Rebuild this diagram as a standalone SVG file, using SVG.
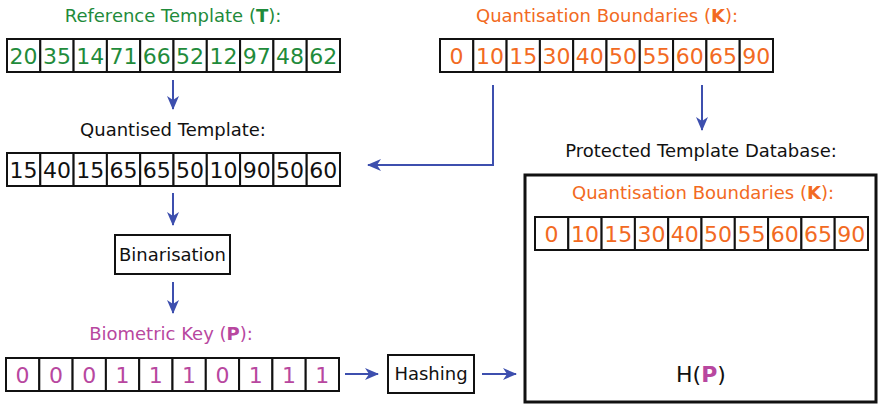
<svg xmlns="http://www.w3.org/2000/svg" width="880" height="406" viewBox="0 0 880 406">
  <style>
    text { font-family: "DejaVu Sans", "Liberation Sans", sans-serif; }
    .title { font-size: 18px; text-anchor: middle; }
    .num { font-size: 22px; text-anchor: middle; }
    .green { fill: #1f8b3b; }
    .orange { fill: #f26a22; }
    .purple { fill: #b8479f; }
    .black { fill: #111; }
    .cell { fill: #fff; stroke: #111; stroke-width: 2; }
    .box { fill: #fff; stroke: #111; stroke-width: 2; }
    .conn { fill: none; stroke: #3d4fae; stroke-width: 2; }
  </style>
  <defs>
    <marker id="arrow" markerUnits="userSpaceOnUse" markerWidth="14" markerHeight="12" viewBox="0 0 14 12" refX="13" refY="6" orient="auto">
      <path d="M0,0 L14,6 L0,12 L4,6 z" fill="#3d4fae"/>
    </marker>
    <g id="cells">
      <rect class="cell" x="0" y="0" width="33.3" height="33"/>
      <rect class="cell" x="33.3" y="0" width="33.3" height="33"/>
      <rect class="cell" x="66.6" y="0" width="33.3" height="33"/>
      <rect class="cell" x="99.9" y="0" width="33.3" height="33"/>
      <rect class="cell" x="133.2" y="0" width="33.3" height="33"/>
      <rect class="cell" x="166.5" y="0" width="33.3" height="33"/>
      <rect class="cell" x="199.8" y="0" width="33.3" height="33"/>
      <rect class="cell" x="233.1" y="0" width="33.3" height="33"/>
      <rect class="cell" x="266.4" y="0" width="33.3" height="33"/>
      <rect class="cell" x="299.7" y="0" width="33.3" height="33"/>
    </g>
  </defs>

  <!-- Reference template T -->
  <g id="reference-template">
    <text class="title green" x="173" y="22">Reference Template (<tspan font-weight="bold">T</tspan>):</text>
    <use href="#cells" x="7" y="39"/>
    <g class="num green">
      <text x="23.6" y="64">20</text><text x="56.9" y="64">35</text><text x="90.2" y="64">14</text>
      <text x="123.5" y="64">71</text><text x="156.8" y="64">66</text><text x="190.1" y="64">52</text>
      <text x="223.4" y="64">12</text><text x="256.7" y="64">97</text><text x="290" y="64">48</text>
      <text x="323.3" y="64">62</text>
    </g>
  </g>

  <!-- Quantisation boundaries K -->
  <g id="quantisation-boundaries">
    <text class="title orange" x="607" y="22">Quantisation Boundaries (<tspan font-weight="bold">K</tspan>):</text>
    <use href="#cells" x="440" y="39"/>
    <g class="num orange">
      <text x="456.6" y="64">0</text><text x="489.9" y="64">10</text><text x="523.2" y="64">15</text>
      <text x="556.5" y="64">30</text><text x="589.8" y="64">40</text><text x="623.1" y="64">50</text>
      <text x="656.4" y="64">55</text><text x="689.7" y="64">60</text><text x="723" y="64">65</text>
      <text x="756.3" y="64">90</text>
    </g>
  </g>

  <!-- Quantised template -->
  <g id="quantised-template">
    <text class="title black" x="173" y="136">Quantised Template:</text>
    <use href="#cells" x="7" y="153"/>
    <g class="num black">
      <text x="23.6" y="178">15</text><text x="56.9" y="178">40</text><text x="90.2" y="178">15</text>
      <text x="123.5" y="178">65</text><text x="156.8" y="178">65</text><text x="190.1" y="178">50</text>
      <text x="223.4" y="178">10</text><text x="256.7" y="178">90</text><text x="290" y="178">50</text>
      <text x="323.3" y="178">60</text>
    </g>
  </g>

  <!-- Binarisation step -->
  <g id="binarisation">
    <rect class="box" x="115" y="235" width="115" height="39"/>
    <text class="title black" x="172.5" y="261">Binarisation</text>
  </g>

  <!-- Biometric key P -->
  <g id="biometric-key">
    <text class="title purple" x="171" y="340">Biometric Key (<tspan font-weight="bold">P</tspan>):</text>
    <use href="#cells" x="6" y="358"/>
    <g class="num purple">
      <text x="22.6" y="383">0</text><text x="55.9" y="383">0</text><text x="89.2" y="383">0</text>
      <text x="122.5" y="383">1</text><text x="155.8" y="383">1</text><text x="189.1" y="383">1</text>
      <text x="222.4" y="383">0</text><text x="255.7" y="383">1</text><text x="289" y="383">1</text>
      <text x="322.3" y="383">1</text>
    </g>
  </g>

  <!-- Hashing step -->
  <g id="hashing">
    <rect class="box" x="388" y="355" width="86" height="38"/>
    <text class="title black" x="431" y="380">Hashing</text>
  </g>

  <!-- Protected template database -->
  <g id="database">
    <text class="title black" x="701" y="157">Protected Template Database:</text>
    <rect x="525" y="175" width="351" height="227" fill="#fff" stroke="#111" stroke-width="3"/>
    <text class="title orange" x="703" y="199">Quantisation Boundaries (<tspan font-weight="bold">K</tspan>):</text>
    <use href="#cells" x="535" y="217"/>
    <g class="num orange">
      <text x="551.6" y="242">0</text><text x="584.9" y="242">10</text><text x="618.2" y="242">15</text>
      <text x="651.5" y="242">30</text><text x="684.8" y="242">40</text><text x="718.1" y="242">50</text>
      <text x="751.4" y="242">55</text><text x="784.7" y="242">60</text><text x="818" y="242">65</text>
      <text x="851.3" y="242">90</text>
    </g>
    <text x="701" y="382" font-size="22" text-anchor="middle" class="black">H(<tspan class="purple" font-weight="bold">P</tspan>)</text>
  </g>

  <!-- Connectors -->
  <g id="connectors" class="conn">
    <path d="M173,80 V109" marker-end="url(#arrow)"/>
    <path d="M173,193 V225" marker-end="url(#arrow)"/>
    <path d="M173,282 V313" marker-end="url(#arrow)"/>
    <path d="M702,85 V130" marker-end="url(#arrow)"/>
    <path d="M493,85 V165 H368" marker-end="url(#arrow)"/>
    <path d="M345,374 H378" marker-end="url(#arrow)"/>
    <path d="M482,374 H516" marker-end="url(#arrow)"/>
  </g>
</svg>
